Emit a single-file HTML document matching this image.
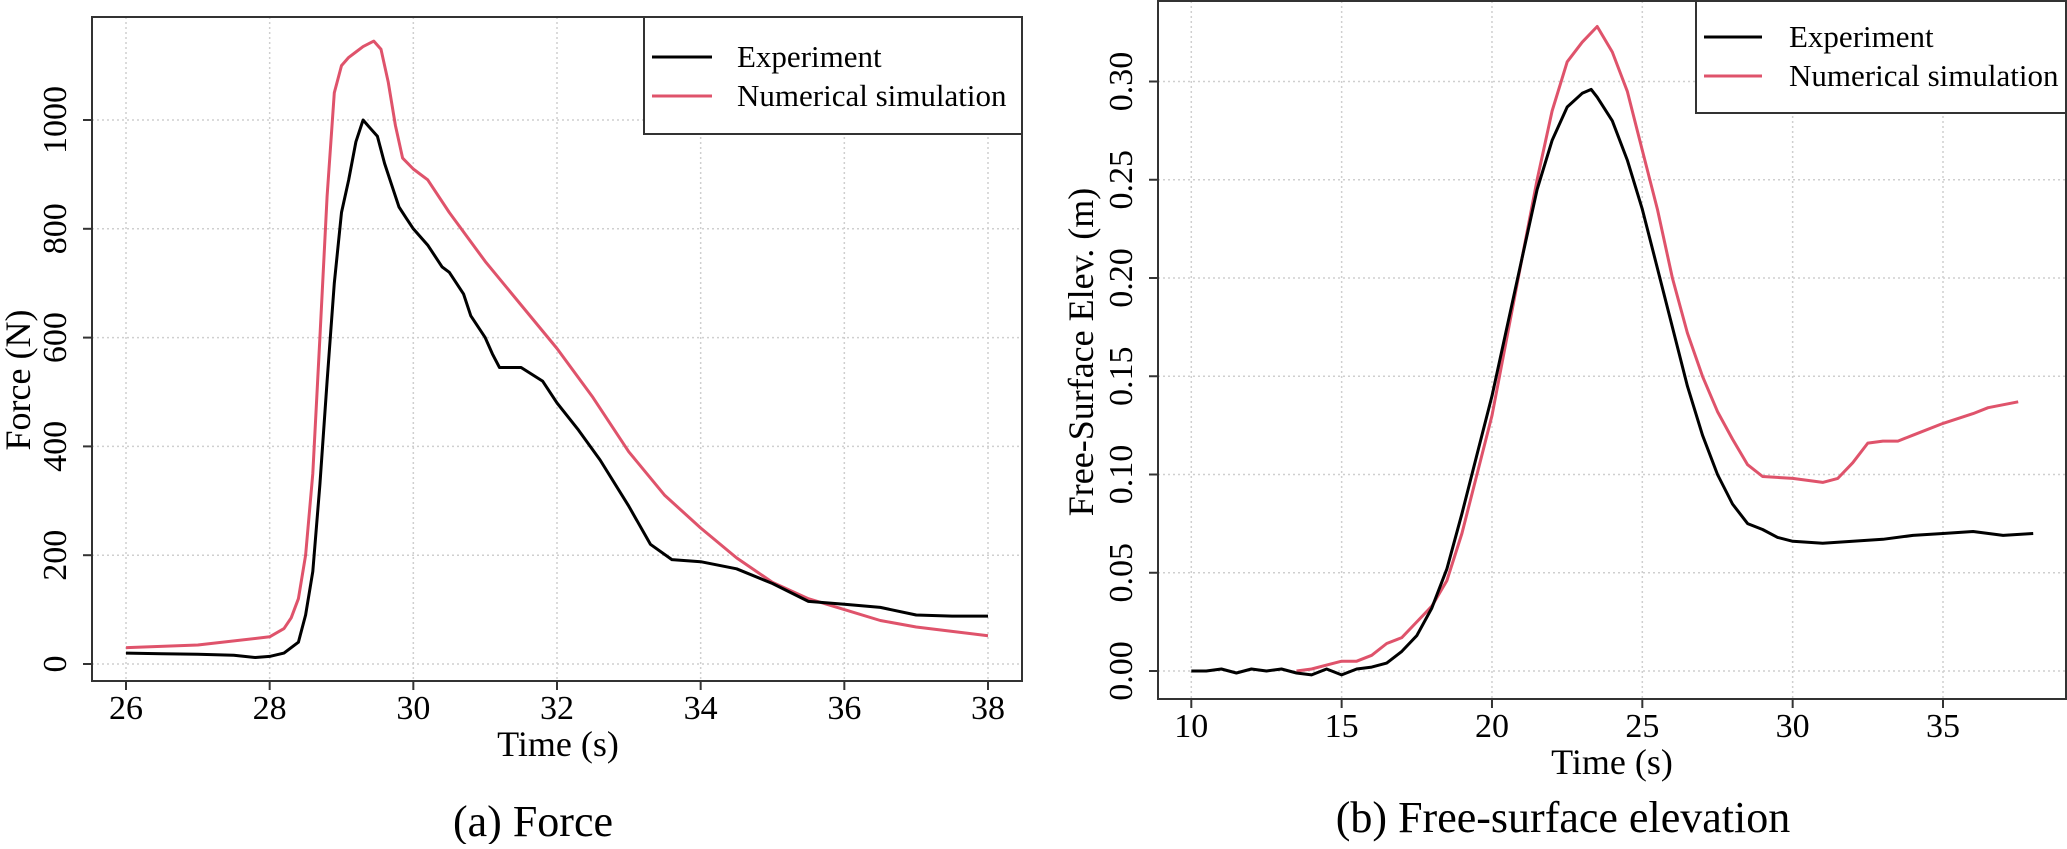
<!DOCTYPE html>
<html><head><meta charset="utf-8"><style>
body{margin:0;background:#fff;}
svg text{font-family:"Liberation Serif",serif;fill:#000;}
</style></head><body>
<svg id="chart" width="2067" height="844" viewBox="0 0 2067 844" xmlns="http://www.w3.org/2000/svg"></svg>
<script>
// ---- Panel (a) Force data ----
const forceExpT = [26,26.5,27,27.5,27.8,28,28.2,28.4,28.5,28.6,28.7,28.8,28.9,29,29.1,29.2,29.3,29.4,29.5,29.6,29.7,29.8,29.9,30,30.2,30.4,30.5,30.7,30.8,31,31.1,31.2,31.5,31.8,32,32.3,32.6,33,33.3,33.6,34,34.5,35,35.5,36,36.5,37,37.5,38];
const forceExpV = [20,19,18,16,12,14,20,40,90,170,330,520,700,830,890,960,1000,985,970,920,880,840,820,800,770,730,720,680,640,600,570,545,545,520,480,430,375,290,220,192,188,175,148,115,110,104,90,88,88];
const forceSimT = [26,27,28,28.2,28.3,28.4,28.5,28.6,28.7,28.8,28.9,29,29.1,29.2,29.3,29.45,29.55,29.65,29.75,29.85,30,30.2,30.5,31,31.5,32,32.5,33,33.5,34,34.5,35,35.5,36,36.5,37,37.5,38];
const forceSimV = [30,35,50,65,85,120,200,350,600,860,1050,1100,1115,1125,1135,1145,1130,1070,990,930,910,890,830,740,660,580,490,390,310,250,195,150,120,100,80,68,60,52];
const forceXTicks = [26,28,30,32,34,36,38];
const forceYTicks = [0,200,400,600,800,1000];

// ---- Panel (b) Elevation data ----
const elevExpT = [10,10.5,11,11.5,12,12.5,13,13.5,14,14.5,15,15.5,16,16.5,17,17.5,18,18.5,19,19.5,20,20.5,21,21.5,22,22.5,23,23.3,23.5,24,24.5,25,25.5,26,26.5,27,27.5,28,28.5,29,29.5,30,31,32,33,34,35,36,37,38];
const elevExpV = [0,0,0.001,-0.001,0.001,0,0.001,-0.001,-0.002,0.001,-0.002,0.001,0.002,0.004,0.01,0.018,0.032,0.052,0.08,0.11,0.14,0.175,0.21,0.245,0.27,0.287,0.294,0.296,0.292,0.28,0.26,0.235,0.205,0.175,0.145,0.12,0.1,0.085,0.075,0.072,0.068,0.066,0.065,0.066,0.067,0.069,0.07,0.071,0.069,0.07];
const elevSimT = [13.5,14,14.5,15,15.5,16,16.5,17,17.5,18,18.5,19,20,21,21.5,22,22.5,23,23.5,24,24.5,25,25.5,26,26.5,27,27.5,28,28.5,29,30,31,31.5,32,32.5,33,33.5,34,35,36,36.5,37.5];
const elevSimV = [0,0.001,0.003,0.005,0.005,0.008,0.014,0.017,0.025,0.033,0.046,0.07,0.13,0.21,0.25,0.285,0.31,0.32,0.328,0.315,0.295,0.265,0.235,0.2,0.172,0.15,0.132,0.118,0.105,0.099,0.098,0.096,0.098,0.106,0.116,0.117,0.117,0.12,0.126,0.131,0.134,0.137];
const elevXTicks = [10,15,20,25,30,35];
const elevYTicks = [0,0.05,0.10,0.15,0.20,0.25,0.30];

const NS = "http://www.w3.org/2000/svg";
const svg = document.getElementById('chart');
const RED = '#DF536B';
function mk(tag, attrs, parent){const e=document.createElementNS(NS,tag);for(const k in attrs)e.setAttribute(k,attrs[k]);(parent||svg).appendChild(e);return e;}

function panel(cfg){
  const g = mk('g',{});
  
  
  const xs = v => cfg.x0px + (v-cfg.x0)*(cfg.x1px-cfg.x0px)/(cfg.x1-cfg.x0);
  const ys = v => cfg.y0px + (v-cfg.y0)*(cfg.y1px-cfg.y0px)/(cfg.y1-cfg.y0);
  // grid
  cfg.xTicks.forEach(t=>{
    const l = mk('line',{x1:xs(t),x2:xs(t),y1:cfg.top,y2:cfg.bottom,stroke:'#cfcfcf','stroke-width':1.5,'stroke-dasharray':'2,3'},g);
    
    
  });
  cfg.yTicks.forEach(t=>{
    const l = mk('line',{x1:cfg.left,x2:cfg.right,y1:ys(t),y2:ys(t),stroke:'#cfcfcf','stroke-width':1.5,'stroke-dasharray':'2,3'},g);
    
    
  });
  // series
  const line = (T,V,color,nm)=>{
    const d = T.map((t,i)=>(i?'L':'M')+xs(t).toFixed(1)+','+ys(V[i]).toFixed(1)).join(' ');
    const p = mk('path',{d:d,fill:'none',stroke:color,'stroke-width':3,'stroke-linejoin':'round'},g);
    
    
  };
  line(cfg.simT,cfg.simV,RED,'numerical-simulation-line');
  line(cfg.expT,cfg.expV,'#000','experiment-line');
  // frame
  const fr = mk('rect',{x:cfg.left,y:cfg.top,width:cfg.right-cfg.left,height:cfg.bottom-cfg.top,fill:'none',stroke:'#333','stroke-width':2},g);
  
  
  // x ticks
  cfg.xTicks.forEach(t=>{
    mk('line',{x1:xs(t),x2:xs(t),y1:cfg.bottom,y2:cfg.bottom+9,stroke:'#333','stroke-width':2},g);
    const tx = mk('text',{x:xs(t),y:cfg.bottom+38,'font-size':34,'text-anchor':'middle'},g);
    tx.textContent = t;
    
    
  });
  cfg.yTicks.forEach(t=>{
    mk('line',{x1:cfg.left-9,x2:cfg.left,y1:ys(t),y2:ys(t),stroke:'#333','stroke-width':2},g);
    const tx = mk('text',{x:0,y:0,'font-size':34,'text-anchor':'middle',transform:`translate(${cfg.left-26},${ys(t)}) rotate(-90)`},g);
    tx.textContent = cfg.fmt(t);
    
    
  });
  const xt = mk('text',{x:cfg.xTitleX,y:cfg.bottom+75,'font-size':36,'text-anchor':'middle'},g);
  xt.textContent='Time (s)';
  
  
  const yt = mk('text',{x:0,y:0,'font-size':36,'text-anchor':'middle',transform:`translate(${cfg.yTitleX},${cfg.yTitleY}) rotate(-90)`},g);
  yt.textContent=cfg.yTitle;
  
  
  // legend
  const L = cfg.legend;
  const lg = mk('g',{},g);
  
  
  mk('rect',{x:L.x,y:L.y,width:L.w,height:L.h,fill:'#fff',stroke:'#333','stroke-width':2},lg);
  [['Experiment','#000',L.r1],['Numerical simulation',RED,L.r2]].forEach(([lab,col,yy])=>{
    const e = mk('g',{},lg);
    
    
    mk('line',{x1:L.lx1,x2:L.lx2,y1:yy,y2:yy,stroke:col,'stroke-width':3},e);
    const tt = mk('text',{x:L.tx,y:yy+10,'font-size':31},e);
    tt.textContent=lab;
  });
  const cap = mk('text',{x:cfg.capX,y:cfg.capY,'font-size':44,'text-anchor':'middle'},g);
  cap.textContent=cfg.caption;
  
  
}

panel({name:'force-panel',left:92,right:1022,top:17,bottom:681,
  x0:26,x1:38,x0px:126,x1px:988,y0:0,y1:1000,y0px:664,y1px:120,
  xTicks:forceXTicks,yTicks:forceYTicks,fmt:t=>String(t),
  expT:forceExpT,expV:forceExpV,simT:forceSimT,simV:forceSimV,
  xTitleX:558,yTitle:'Force (N)',yTitleX:30,yTitleY:380,
  legend:{x:644,y:17,w:378,h:117,r1:57,r2:96,lx1:652,lx2:712,tx:737},
  caption:'(a) Force',capX:533,capY:836});

panel({name:'elevation-panel',left:1158,right:2066,top:1,bottom:699,
  x0:10,x1:35,x0px:1191.3,x1px:1943,y0:0,y1:0.30,y0px:671,y1px:81.5,
  xTicks:elevXTicks,yTicks:elevYTicks,fmt:t=>t.toFixed(2),
  expT:elevExpT,expV:elevExpV,simT:elevSimT,simV:elevSimV,
  xTitleX:1612,yTitle:'Free-Surface Elev. (m)',yTitleX:1093,yTitleY:352,
  legend:{x:1696,y:1,w:370,h:112,r1:37,r2:76,lx1:1704,lx2:1762,tx:1789},
  caption:'(b) Free-surface elevation',capX:1563,capY:832});
</script>
</body></html>
